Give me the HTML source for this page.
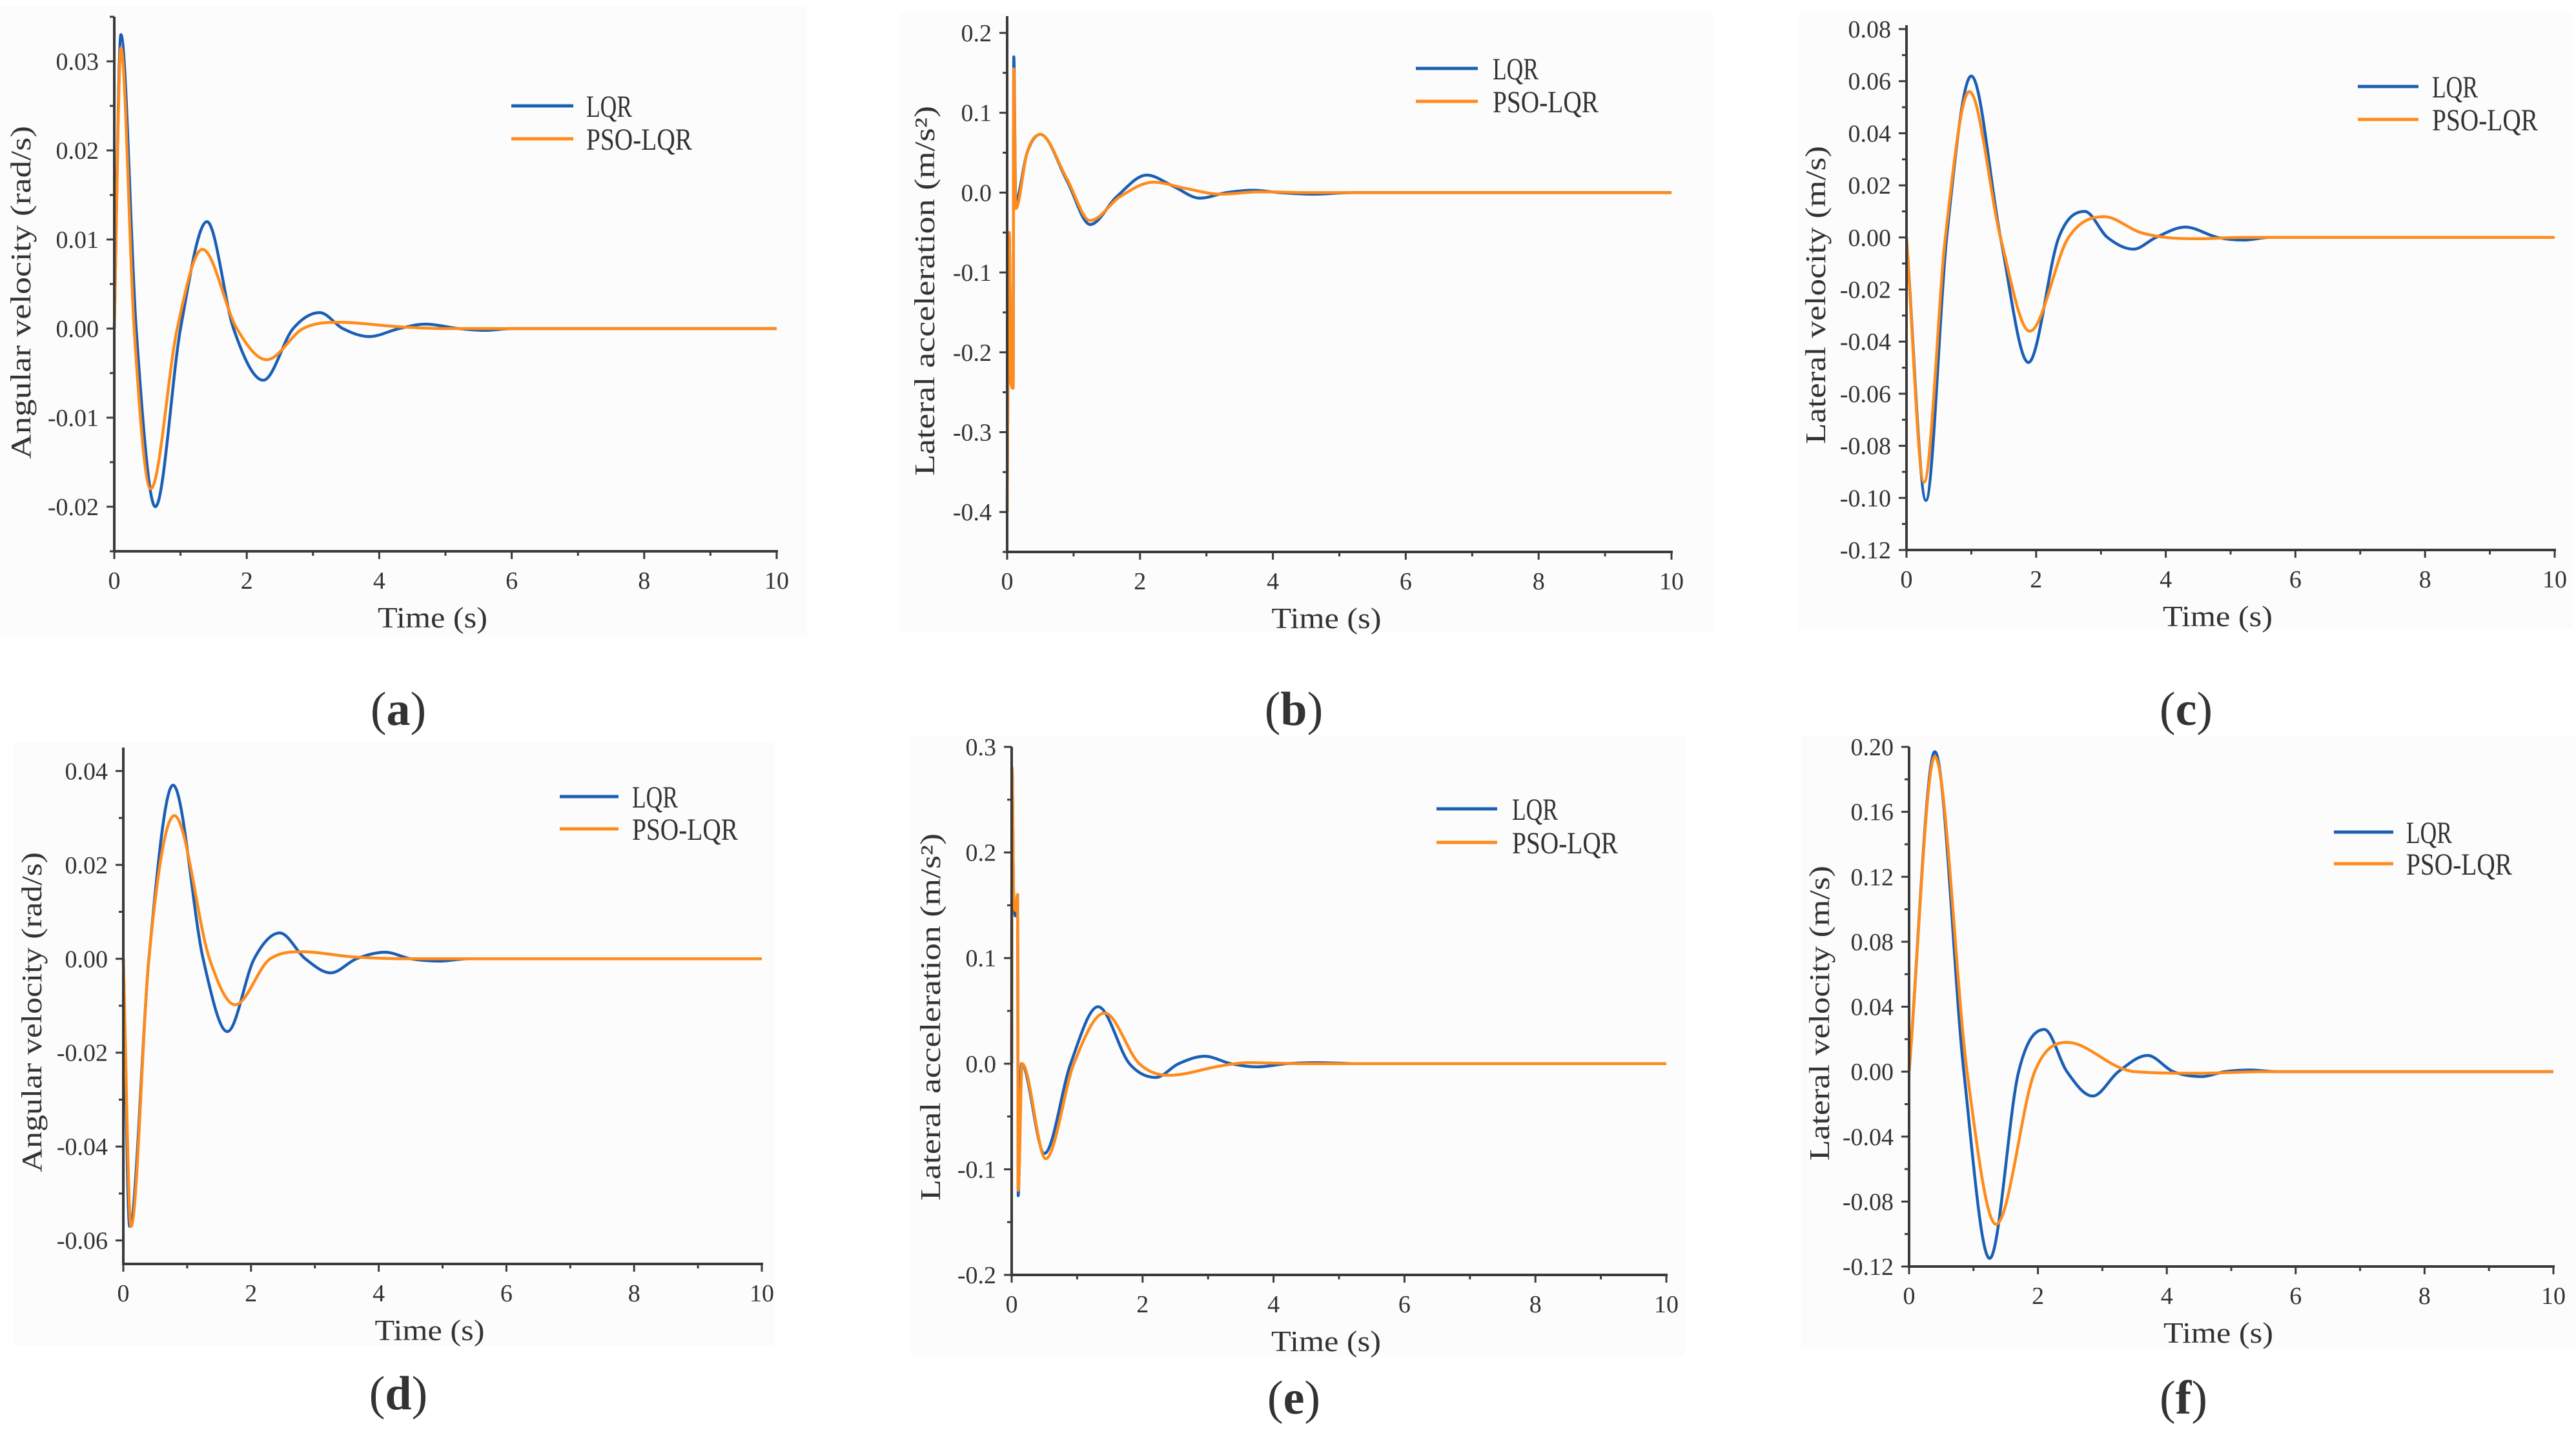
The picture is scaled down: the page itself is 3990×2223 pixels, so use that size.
<!DOCTYPE html>
<html><head><meta charset="utf-8"><style>
html,body{margin:0;padding:0;background:#fff;}
svg{display:block;}
text{font-family:"Liberation Serif","Noto Serif CJK SC",serif;fill:#333;}
</style></head><body>
<svg id="fig" width="3990" height="2223" viewBox="0 0 3990 2223" xmlns="http://www.w3.org/2000/svg"></svg>
<script>
// ---- data: time/value pairs per series ----
const aLqrT=[0,0.1,0.33,0.62,1.0,1.4,1.8,2.25,2.7,3.1,3.45,3.85,4.3,4.7,5.2,5.6,6.0,10];
const aLqrV=[0,0.033,0,-0.020,0,0.012,0,-0.0058,0,0.0018,0,-0.0009,0,0.0005,0,-0.0002,0,0];
const aPsoT=[0,0.1,0.3,0.55,0.95,1.33,1.85,2.3,2.85,3.4,4.3,5.0,10];
const aPsoV=[0,0.0315,0,-0.018,0,0.0089,0,-0.0035,0,0.0007,0.0002,0,0];
const bLqrT=[0,0.03,0.06,0.09,0.1,0.13,0.3,0.5,0.9,1.25,1.65,2.1,2.5,2.9,3.3,3.7,4.1,4.6,5.2,10];
const bLqrV=[-0.4,-0.05,-0.24,-0.24,0.17,-0.01,0.05,0.073,0.015,-0.04,-0.005,0.022,0.008,-0.007,0,0.003,0,-0.002,0,0];
const bPsoT=[0,0.03,0.06,0.09,0.1,0.13,0.3,0.5,0.9,1.25,1.7,2.2,2.7,3.2,3.8,4.5,10];
const bPsoV=[-0.4,-0.05,-0.24,-0.245,0.155,-0.02,0.05,0.073,0.017,-0.035,-0.005,0.013,0.005,-0.002,0.001,0,0];
const cLqrT=[0,0.3,0.62,1.0,1.45,1.88,2.35,2.75,3.1,3.5,3.85,4.3,4.8,5.2,5.6,10];
const cLqrV=[0,-0.101,0,0.062,0,-0.048,0,0.010,0,-0.0045,0,0.004,0,-0.001,0,0];
const cPsoT=[0,0.27,0.6,0.97,1.45,1.9,2.5,3.05,3.6,4.0,4.5,5.2,10];
const cPsoV=[0,-0.094,0,0.056,0,-0.036,0,0.008,0.002,0,-0.0005,0,0];
const dLqrT=[0,0.1,0.4,0.78,1.25,1.63,2.05,2.45,2.85,3.25,3.65,4.1,4.5,4.95,5.4,10];
const dLqrV=[0,-0.057,0,0.037,0,-0.0155,0,0.0055,0,-0.003,0,0.0014,0,-0.0005,0,0];
const dPsoT=[0,0.12,0.4,0.8,1.35,1.75,2.3,2.8,3.6,4.5,10];
const dPsoV=[0,-0.057,0,0.0305,0,-0.0098,0,0.0015,0.0004,0,0];
const eLqrT=[0,0.005,0.03,0.06,0.09,0.1,0.15,0.5,0.9,1.32,1.8,2.2,2.55,2.95,3.35,3.75,4.2,4.7,5.3,10];
const eLqrV=[0,0.28,0.16,0.14,0.16,-0.125,0,-0.085,0,0.054,0,-0.013,0,0.007,0,-0.003,0,0.001,0,0];
const ePsoT=[0,0.005,0.03,0.06,0.09,0.1,0.16,0.52,0.95,1.42,1.95,2.4,3.2,3.6,4.5,10];
const ePsoV=[0,0.28,0.16,0.145,0.16,-0.12,0,-0.09,0,0.048,0,-0.011,-0.002,0.001,0,0];
const fLqrT=[0,0.4,0.85,1.25,1.7,2.1,2.45,2.85,3.25,3.7,4.1,4.55,4.9,5.3,5.7,10];
const fLqrV=[0,0.197,0,-0.115,0,0.026,0,-0.015,0,0.010,0,-0.003,0,0.001,0,0];
const fPsoT=[0,0.4,0.9,1.35,1.95,2.45,3.3,3.5,4.5,5.5,10];
const fPsoV=[0,0.194,0,-0.094,0,0.018,0.002,0,-0.001,0,0];
const xTicks=[0,2,4,6,8,10];
const aYTicks=[-0.02,-0.01,0,0.01,0.02,0.03];
const bYTicks=[-0.4,-0.3,-0.2,-0.1,0,0.1,0.2];
const cYTicks=[-0.12,-0.10,-0.08,-0.06,-0.04,-0.02,0,0.02,0.04,0.06,0.08];
const dYTicks=[-0.06,-0.04,-0.02,0,0.02,0.04];
const eYTicks=[-0.2,-0.1,0,0.1,0.2,0.3];
const fYTicks=[-0.12,-0.08,-0.04,0,0.04,0.08,0.12,0.16,0.20];
const seriesNames=["LQR","PSO-LQR"];

const NS="http://www.w3.org/2000/svg";
const svg=document.getElementById('fig');
function el(tag,attrs,parent){const e=document.createElementNS(NS,tag);for(const k in attrs)e.setAttribute(k,attrs[k]);(parent||svg).appendChild(e);return e;}
const BLUE="#1b5fb5",ORANGE="#ff8b1a";

const panels=[
 {id:'a',x0:177,x1:1203,yTop:26,yBot:854,ymin:-0.025,ymax:0.035,ticks:aYTicks,dec:2,minorStep:0.005,
  title:'Angular velocity (rad/s)',tx:33,tyTop:195,tyBot:711,lab:[617,1098],legX:[792,888],legY:[164,215],legT:908,
  s:[[aLqrT,aLqrV],[aPsoT,aPsoV]],bg:[0,10,1250,975]},
 {id:'b',x0:1560,x1:2589,yTop:25,yBot:855,ymin:-0.45,ymax:0.221,ticks:bYTicks,dec:1,minorStep:0.05,
  title:'Lateral acceleration (m/s²)',tx:1433,tyTop:164,tyBot:737,lab:[2004,1098],legX:[2193,2289],legY:[106,157],legT:2312,
  s:[[bLqrT,bLqrV],[bPsoT,bPsoV]],bg:[1395,20,1260,960]},
 {id:'c',x0:2953,x1:3957,yTop:39,yBot:852,ymin:-0.12,ymax:0.0815,ticks:cYTicks,dec:2,minorStep:0.01,
  title:'Lateral velocity (m/s)',tx:2813,tyTop:226,tyBot:688,lab:[3386,1098],legX:[3652,3746],legY:[134,185],legT:3767,
  s:[[cLqrT,cLqrV],[cPsoT,cPsoV]],bg:[2785,20,1200,955]},
 {id:'d',x0:191,x1:1180,yTop:1158,yBot:1958,ymin:-0.065,ymax:0.045,ticks:dYTicks,dec:2,minorStep:0.01,
  title:'Angular velocity (rad/s)',tx:50,tyTop:1320,tyBot:1816,lab:[617,2158],legX:[867,958],legY:[1234,1284],legT:979,
  s:[[dLqrT,dLqrV],[dPsoT,dPsoV]],bg:[20,1150,1180,935]},
 {id:'e',x0:1567,x1:2581,yTop:1157,yBot:1975,ymin:-0.2,ymax:0.3,ticks:eYTicks,dec:1,minorStep:0.05,
  title:'Lateral acceleration (m/s²)',tx:1442,tyTop:1291,tyBot:1860,lab:[2004,2165],legX:[2225,2319],legY:[1253,1305],legT:2342,
  s:[[eLqrT,eLqrV],[ePsoT,ePsoV]],bg:[1410,1140,1200,960]},
 {id:'f',x0:2957,x1:3955,yTop:1157,yBot:1962,ymin:-0.12,ymax:0.20,ticks:fYTicks,dec:2,minorStep:0.02,
  title:'Lateral velocity (m/s)',tx:2819,tyTop:1341,tyBot:1798,lab:[3382,2165],legX:[3615,3707],legY:[1289,1338],legT:3727,
  s:[[fLqrT,fLqrV],[fPsoT,fPsoV]],bg:[2790,1140,1200,950]}
];

function monoPath(px,py){
 const n=px.length;if(n<2)return'';
 const d=[],m=new Array(n);
 for(let i=0;i<n-1;i++){const dx=px[i+1]-px[i];d.push(dx===0?0:(py[i+1]-py[i])/dx);}
 m[0]=d[0];m[n-1]=d[n-2];
 for(let i=1;i<n-1;i++){m[i]=(d[i-1]*d[i]<=0)?0:(d[i-1]+d[i])/2;}
 for(let i=0;i<n-1;i++){if(d[i]===0){m[i]=0;m[i+1]=0;continue;}
  const a=m[i]/d[i],b=m[i+1]/d[i],s=a*a+b*b;if(s>9){const t=3/Math.sqrt(s);m[i]=t*a*d[i];m[i+1]=t*b*d[i];}}
 let p='M'+px[0].toFixed(1)+','+py[0].toFixed(1);
 for(let i=0;i<n-1;i++){const h=(px[i+1]-px[i])/3;
  p+=' C'+(px[i]+h).toFixed(1)+','+(py[i]+m[i]*h).toFixed(1)+' '+(px[i+1]-h).toFixed(1)+','+(py[i+1]-m[i+1]*h).toFixed(1)+' '+px[i+1].toFixed(1)+','+py[i+1].toFixed(1);}
 return p;
}

panels.forEach(P=>{
 const g=el('g',{});
 
 
 const bg=el('rect',{x:P.bg[0],y:P.bg[1],width:P.bg[2],height:P.bg[3],fill:'#fcfcfc'},g);
 
 
 const X=t=>P.x0+(P.x1-P.x0)*t/10;
 const Y=v=>P.yBot-(P.yBot-P.yTop)*(v-P.ymin)/(P.ymax-P.ymin);
 const cols=[BLUE,ORANGE];
 P.s.forEach((s,k)=>{
  const px=s[0].map(X),py=s[1].map(Y);
  const path=el('path',{d:monoPath(px,py),fill:'none',stroke:cols[k],'stroke-width':4.5,'stroke-linejoin':'round'},g);
  
  
 });
 const ax=el('line',{x1:P.x0,y1:P.yTop,x2:P.x0,y2:P.yBot+2,stroke:'#3a3a3a','stroke-width':4},g);
 
 
 const bx=el('line',{x1:P.x0-2,y1:P.yBot,x2:P.x1+2,y2:P.yBot,stroke:'#3a3a3a','stroke-width':4},g);
 
 
 for(let v=P.ticks[0];v<=P.ymax+1e-9;v+=P.minorStep){
  if(v<P.ymin-1e-9)continue;
  const isMaj=P.ticks.some(t=>Math.abs(t-v)<1e-9);
  el('line',{x1:P.x0-(isMaj?12:7),y1:Y(v),x2:P.x0,y2:Y(v),stroke:'#3a3a3a','stroke-width':3},g);
 }
 for(let v=P.ticks[0]-P.minorStep;v>=P.ymin-1e-9;v-=P.minorStep){
  el('line',{x1:P.x0-7,y1:Y(v),x2:P.x0,y2:Y(v),stroke:'#3a3a3a','stroke-width':3},g);
 }
 P.ticks.forEach(v=>{
  const t=el('text',{x:P.x0-24,y:Y(v)+13,'font-size':38,'text-anchor':'end'},g);
  t.textContent=v.toFixed(P.dec);
  
  
 });
 for(let t=0;t<=10;t++){
  const maj=t%2===0;
  el('line',{x1:X(t),y1:P.yBot,x2:X(t),y2:P.yBot+(maj?12:7),stroke:'#3a3a3a','stroke-width':3},g);
 }
 xTicks.forEach(t=>{
  const tx=el('text',{x:X(t),y:P.yBot+58,'font-size':38,'text-anchor':'middle'},g);
  tx.textContent=String(t);
  
  
 });
 const xt=el('text',{x:(P.x0+P.x1)/2-20,y:P.yBot+118,'font-size':46,'text-anchor':'middle',textLength:170,lengthAdjust:'spacingAndGlyphs'},g);
 xt.textContent='Time (s)';
 
 
 const cy=(P.tyTop+P.tyBot)/2;
 const yt=el('text',{x:P.tx+14,y:cy,'font-size':44,'text-anchor':'middle',transform:'rotate(-90 '+(P.tx+14)+' '+cy+')',textLength:P.tyBot-P.tyTop,lengthAdjust:'spacingAndGlyphs'},g);
 yt.textContent=P.title;
 
 
 seriesNames.forEach((nm,k)=>{
  const ln=el('line',{x1:P.legX[0],y1:P.legY[k],x2:P.legX[1],y2:P.legY[k],stroke:cols[k],'stroke-width':5},g);
  
  
  const lt=el('text',{x:P.legT,y:P.legY[k]+17,'font-size':48,textLength:(k===0?71:164),lengthAdjust:'spacingAndGlyphs'},g);
  lt.textContent=nm;
  
  
 });
 const pl=el('text',{x:P.lab[0],y:P.lab[1]+25,'font-size':74,'text-anchor':'middle'},g);
 pl.innerHTML='(<tspan font-weight="bold">'+P.id+'</tspan>)';
 
 
});
</script>
</body></html>
